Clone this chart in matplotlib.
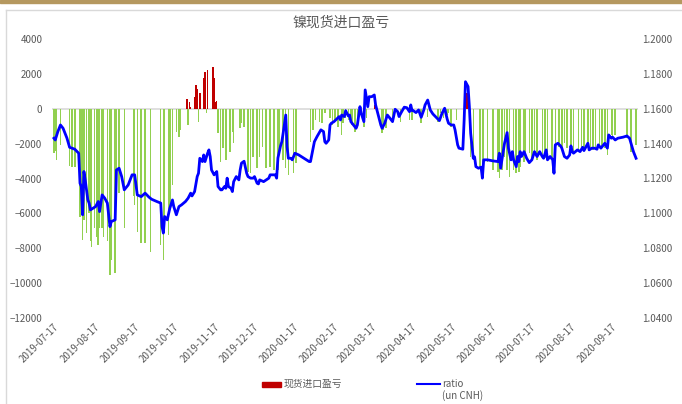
import pandas as pd
import matplotlib
matplotlib.use('Agg')
import matplotlib.pyplot as plt
from matplotlib.lines import Line2D
from matplotlib.patches import Rectangle
from matplotlib.ticker import FormatStrFormatter

plt.rcParams['font.family'] = ['Noto Sans CJK SC', 'DejaVu Sans']

start = pd.Timestamp('2019-07-17')

# import profit / loss bars, x = days after 2019-07-17
bar_days = [0, 1, 2, 5, 12, 14, 16, 20, 21, 22, 23, 25, 27, 28, 29, 31, 33, 34, 35, 37,
            38, 41, 43, 44, 47, 48, 50, 54, 61, 62, 64, 67, 70, 74, 82, 84, 85, 88, 89, 91,
            94, 96, 97, 102, 103, 104, 105, 108, 109, 110, 111, 112, 115, 116, 117, 118, 122, 123, 124, 125,
            126, 128, 130, 132, 135, 137, 138, 143, 144, 146, 149, 151, 153, 156, 158, 160, 163, 166, 169, 172,
            173, 176, 178, 180, 184, 186, 197, 199, 201, 204, 206, 208, 212, 214, 216, 218, 221, 222, 224, 226,
            228, 229, 231, 233, 238, 240, 246, 252, 253, 255, 260, 266, 273, 275, 282, 287, 295, 297, 299, 302,
            303, 305, 309, 317, 320, 322, 327, 329, 330, 333, 337, 341, 342, 344, 346, 348, 350, 353, 355, 357,
            358, 361, 362, 365, 367, 369, 371, 375, 377, 379, 382, 383, 385, 388, 390, 392, 394, 397, 399, 403,
            405, 407, 410, 412, 414, 416, 419, 421, 423, 425, 428, 429, 431, 440, 443, 447]
bar_values = [-2540, -2450, -2930, -2070, -3280, -3320, -3350, -6180, -6080, -7520, -6370, -7130, -5990, -7610, -7900, -6850, -7330, -7800, -6850, -6850,
              -7330, -7610, -9520, -8660, -9430, -5030, -4840, -6850, -5030, -5510, -7040, -7710, -7710, -8240, -7800, -8660, -6370, -7220, -5600, -4370,
              -1310, -1600, -1210, 540, -930, 410, 120, 690, 1360, 1120, -740, 890, 1750, 2090, -250, 2220, 2380, 1750, 410, 460,
              -1400, -3030, -2270, -2930, -2460, -1310, -1980, -1120, -830, -1030, -3600, -3700, -2740, -3410, -2740, -2170, -3410, -3320, -3510, -3510,
              -2270, -2930, -3410, -3790, -3700, -3120, -1880, -1210, -640, -740, -830, -260, -550, -930, -640, -1030, -1500, -830, -550, -640,
              -740, -930, -1310, -1120, -1030, -550, 200, -1400, -1210, -1120, -740, -740, -640, -640, -830, -450, -740, -260, -550, -360,
              -260, -1030, -640, 900, -2740, -2930, -3410, -3700, -3600, -3030, -3510, -3600, -3980, -3510, -2740, -3510, -3890, -3510, -3700, -3600,
              -3320, -3030, -2740, -2550, -2840, -2650, -2930, -2740, -2840, -2460, -2740, -3700, -2930, -2170, -2260, -1980, -2260, -2260, -2460, -2360,
              -2170, -2260, -2170, -2360, -2360, -2260, -2260, -2170, -2260, -2640, -1500, -1600, -1500, -1700, -2460, -2070]

# ratio (un CNH), right axis
ratio_days = [0, 1, 3, 5, 7, 10, 12, 16, 19, 20, 21, 22, 23, 24, 26, 27, 28, 32, 34, 35,
              37, 39, 41, 43, 44, 47, 48, 50, 52, 54, 57, 60, 62, 64, 67, 70, 73, 75, 79, 82,
              83, 84, 85, 87, 89, 91, 92, 94, 96, 98, 101, 103, 105, 106, 108, 110, 111, 112, 114, 115,
              116, 118, 119, 120, 121, 123, 124, 125, 126, 128, 129, 131, 132, 133, 134, 136, 137, 138, 140, 142,
              143, 144, 146, 148, 149, 151, 153, 154, 156, 157, 158, 161, 163, 165, 166, 167, 170, 171, 172, 174,
              175, 176, 178, 179, 180, 182, 183, 185, 188, 192, 196, 197, 199, 200, 202, 205, 207, 208, 209, 211,
              212, 213, 215, 217, 219, 220, 221, 223, 224, 226, 227, 228, 230, 232, 233, 235, 236, 238, 239, 241,
              242, 244, 246, 247, 249, 251, 252, 254, 256, 258, 260, 262, 264, 265, 267, 269, 271, 273, 274, 275,
              276, 278, 280, 282, 284, 285, 287, 289, 291, 293, 296, 298, 300, 302, 303, 305, 307, 308, 310, 311,
              314, 315, 316, 318, 319, 320, 322, 323, 324, 326, 328, 329, 330, 333, 337, 341, 342, 343, 344, 346,
              348, 349, 351, 352, 353, 355, 356, 357, 358, 359, 361, 363, 365, 367, 369, 371, 373, 375, 376, 378,
              379, 381, 383, 384, 385, 387, 389, 390, 392, 394, 396, 397, 398, 399, 402, 404, 406, 407, 408, 410,
              411, 413, 415, 417, 418, 420, 421, 423, 425, 426, 428, 429, 431, 433, 437, 440, 442, 445, 447]
ratio_values = [1.1431, 1.1421, 1.1469, 1.1507, 1.1488, 1.1431, 1.1379, 1.1368, 1.1345, 1.1173, 1.1154, 1.0992, 1.1240, 1.1192, 1.1078, 1.1059, 1.1020, 1.1039, 1.1068, 1.1010,
                1.1106, 1.1087, 1.1059, 1.0924, 1.0953, 1.0963, 1.1249, 1.1259, 1.1211, 1.1135, 1.1163, 1.1221, 1.1221, 1.1106, 1.1096, 1.1116, 1.1093, 1.1081, 1.1068, 1.1059,
                1.0924, 1.0887, 1.0982, 1.0963, 1.1030, 1.1077, 1.1039, 1.0992, 1.1039, 1.1049, 1.1068, 1.1087, 1.1116, 1.1100, 1.1125, 1.1211, 1.1230, 1.1316, 1.1297, 1.1335,
                1.1297, 1.1345, 1.1364, 1.1326, 1.1249, 1.1221, 1.1230, 1.1240, 1.1154, 1.1135, 1.1135, 1.1154, 1.1144, 1.1202, 1.1154, 1.1144, 1.1125, 1.1182, 1.1211, 1.1192,
                1.1249, 1.1288, 1.1299, 1.1230, 1.1211, 1.1202, 1.1202, 1.1211, 1.1173, 1.1169, 1.1192, 1.1182, 1.1192, 1.1202, 1.1221, 1.1221, 1.1221, 1.1202, 1.1318, 1.1387,
                1.1411, 1.1460, 1.1564, 1.1383, 1.1316, 1.1316, 1.1307, 1.1345, 1.1335, 1.1316, 1.1297, 1.1297, 1.1374, 1.1411, 1.1440, 1.1479, 1.1469, 1.1411, 1.1402, 1.1421,
                1.1507, 1.1517, 1.1526, 1.1540, 1.1555, 1.1536, 1.1564, 1.1555, 1.1589, 1.1559, 1.1564, 1.1526, 1.1507, 1.1488, 1.1507, 1.1612, 1.1574, 1.1526, 1.1708, 1.1612,
                1.1669, 1.1669, 1.1679, 1.1622, 1.1564, 1.1507, 1.1488, 1.1517, 1.1564, 1.1546, 1.1526, 1.1597, 1.1583, 1.1555, 1.1583, 1.1609, 1.1606, 1.1583, 1.1622, 1.1589,
                1.1589, 1.1578, 1.1593, 1.1551, 1.1593, 1.1622, 1.1650, 1.1593, 1.1570, 1.1555, 1.1532, 1.1574, 1.1603, 1.1540, 1.1517, 1.1507, 1.1507, 1.1479, 1.1393, 1.1374,
                1.1368, 1.1536, 1.1755, 1.1727, 1.1612, 1.1460, 1.1316, 1.1324, 1.1268, 1.1259, 1.1265, 1.1202, 1.1307, 1.1307, 1.1301, 1.1297, 1.1345, 1.1259, 1.1307, 1.1402,
                1.1463, 1.1374, 1.1307, 1.1354, 1.1307, 1.1268, 1.1326, 1.1297, 1.1354, 1.1326, 1.1354, 1.1316, 1.1291, 1.1307, 1.1354, 1.1326, 1.1354, 1.1326, 1.1316, 1.1364,
                1.1307, 1.1326, 1.1307, 1.1230, 1.1393, 1.1402, 1.1387, 1.1374, 1.1326, 1.1316, 1.1335, 1.1387, 1.1354, 1.1345, 1.1364, 1.1354, 1.1379, 1.1360, 1.1374, 1.1402,
                1.1364, 1.1374, 1.1374, 1.1368, 1.1393, 1.1374, 1.1383, 1.1402, 1.1374, 1.1450, 1.1431, 1.1437, 1.1421, 1.1431, 1.1437, 1.1444, 1.1431, 1.1354, 1.1316]

tick_labels = ['2019-07-17', '2019-08-17', '2019-09-17', '2019-10-17', '2019-11-17',
               '2019-12-17', '2020-01-17', '2020-02-17', '2020-03-17', '2020-04-17',
               '2020-05-17', '2020-06-17', '2020-07-17', '2020-08-17', '2020-09-17']

grey = '#595959'
W, H = 682, 404
fig = plt.figure(figsize=(W / 100, H / 100), dpi=100)

# page decoration: gold band and light frame
fig.add_artist(Rectangle((0, 1 - 3 / H), 1, 3 / H, color='#B5985F', transform=fig.transFigure))
fig.add_artist(Line2D([6 / W, 1], [1 - 10 / H] * 2, color='#D9D9D9', lw=1, transform=fig.transFigure))
fig.add_artist(Line2D([6 / W] * 2, [0, 1 - 10 / H], color='#D9D9D9', lw=1, transform=fig.transFigure))

ax = fig.add_axes([52 / W, 1 - 318 / H, 586 / W, 279 / H])
bar_x = start + pd.to_timedelta(bar_days, unit='D')
colors = ['#C00000' if v > 0 else '#92D050' for v in bar_values]
ax.axhline(0, color='#D9D9D9', lw=1.2, zorder=1)
ax.bar(bar_x, bar_values, width=1.15, color=colors, zorder=2)
ax.set_ylim(-12000, 4000)
ax.set_yticks(range(-12000, 4001, 2000))
ax.set_xlim(start - pd.Timedelta(days=1.5), start + pd.Timedelta(days=448.5))
ax.set_xticks(pd.to_datetime(tick_labels))
ax.set_xticklabels(tick_labels, rotation=45, ha='right', va='top', rotation_mode='anchor')
ax.tick_params(length=0, labelsize=7, colors=grey)
ax.tick_params(axis='y', pad=7)
ax.tick_params(axis='x', pad=3)
for s in ax.spines.values():
    s.set_visible(False)

ax2 = ax.twinx()
ratio_x = start + pd.to_timedelta(ratio_days, unit='D')
ax2.plot(ratio_x, ratio_values, color='#0000FF', lw=2, solid_joinstyle='round', zorder=3)
ax2.set_ylim(1.04, 1.2)
ax2.set_yticks([1.04 + 0.02 * i for i in range(9)])
ax2.yaxis.set_major_formatter(FormatStrFormatter('%.4f'))
ax2.tick_params(length=0, labelsize=7, colors=grey, pad=3)
for s in ax2.spines.values():
    s.set_visible(False)

fig.text(341 / W, 1 - 23 / H, '镍现货进口盈亏', ha='center', va='center', fontsize=10, color=grey)

# legend drawn by hand to match the two-line label
fig.add_artist(Rectangle((262 / W, 1 - 387 / H), 19 / W, 5 / H, color='#C00000', transform=fig.transFigure))
fig.text(284 / W, 1 - 384 / H, '现货进口盈亏', ha='left', va='center', fontsize=7, color=grey)
fig.add_artist(Line2D([417 / W, 440 / W], [1 - 384 / H] * 2, color='#0000FF', lw=1.5, transform=fig.transFigure))
fig.text(442 / W, 1 - 384 / H, 'ratio', ha='left', va='center', fontsize=7, color=grey)
fig.text(442 / W, 1 - 396 / H, '(un CNH)', ha='left', va='center', fontsize=7, color=grey)

fig.savefig('out.png', dpi=100)
